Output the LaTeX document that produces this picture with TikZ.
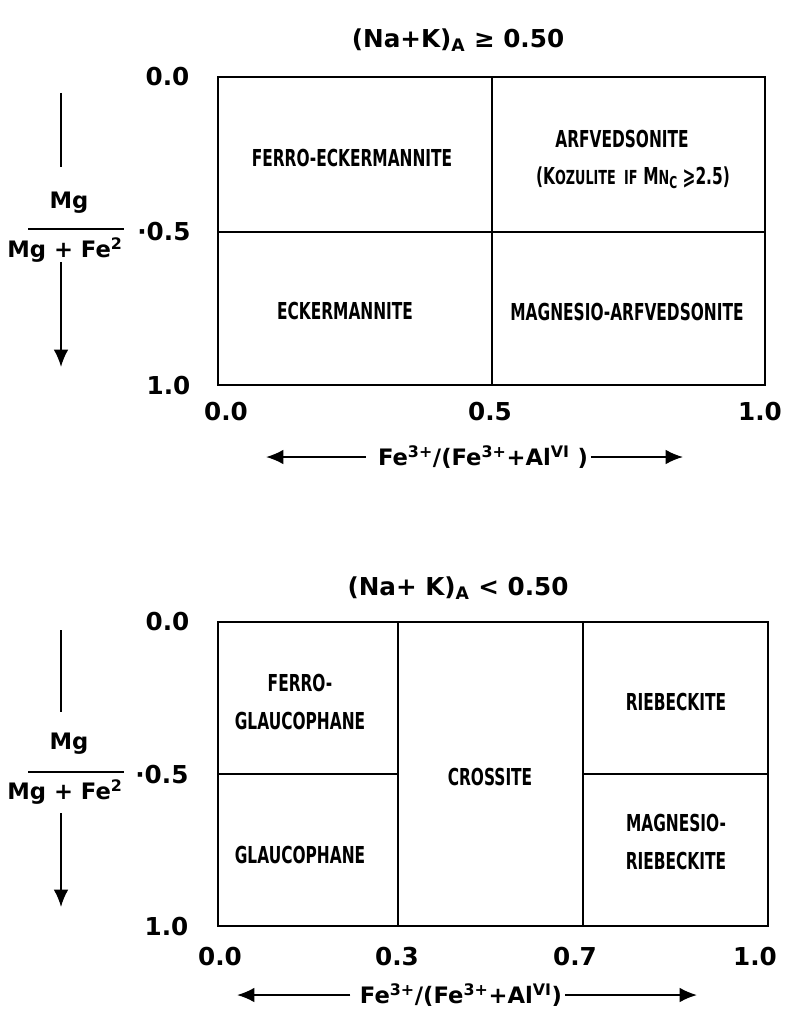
\documentclass[tikz,border=0pt]{standalone}
\usepackage{fontspec}
\setmainfont{DejaVu Sans}
\newfontfamily\regionfont{DejaVu Sans}[FakeStretch=0.66, BoldFeatures={FakeStretch=0.66}]
\newfontfamily\labelfont{DejaVu Sans}
\usetikzlibrary{arrows.meta, positioning}
\newcommand{\sups}[1]{\textsuperscript{#1}}
\newcommand{\smcap}[1]{{\fontsize{14.5}{16}\selectfont #1}}

\begin{document}
\begin{tikzpicture}[x=0.75pt, y=-0.75pt,
  frame/.style={line width=1.9pt},
  divider/.style={line width=1.5pt},
  region/.style={font={\regionfont\bfseries\fontsize{17.5}{21}\selectfont}, align=center},
  tick/.style={font={\labelfont\bfseries\fontsize{18.5}{22}\selectfont}, inner sep=1pt},
  title/.style={font={\labelfont\bfseries\fontsize{18.5}{22}\selectfont}},
  ratio/.style={font={\labelfont\bfseries\fontsize{17}{21}\selectfont}, inner sep=1pt},
  axisarrow/.style={line width=1.5pt, -{Latex[length=13pt, width=11pt]}},
  stem/.style={line width=1.5pt},
]
\useasboundingbox (0,0) rectangle (784,1012);

% --- upper diagram: (Na+K)_A >= 0.50
\node[title] (upTitle) at (458,40) {(Na+K)\textsubscript{A} ≥ 0.50};
\draw[frame] (218,77) rectangle (765,385);
\draw[divider] (218,232) -- (765,232);
\draw[divider] (492,77) -- (492,385);

\node[region] (ferroEck) at (352,158) {FERRO-ECKERMANNITE};
\node[region] (arfv) at (622,139) {ARFVEDSONITE};
\node[region] (kozul) at (633,178) {(K\smcap{OZULITE}\hspace{0.35em}\smcap{IF}\hspace{0.25em}M\smcap{N}\textsubscript{C}\hspace{0.2em}⩾2.5)};
\node[region] (eck) at (345,311) {ECKERMANNITE};
\node[region] (mgArfv) at (627,312) {MAGNESIO-ARFVEDSONITE};

\node[tick, anchor=east] (upY0) at (191,77) {0.0};
\node[tick, anchor=east] (upY5) at (192,232) {·0.5};
\node[tick, anchor=east] (upY1) at (192,386) {1.0};
\node[tick] (upX0) at (226,412) {0.0};
\node[tick] (upX5) at (490,412) {0.5};
\node[tick] (upX1) at (760,412) {1.0};

\node[ratio] (upAxis) at (483,457) {Fe\sups{3+}/(Fe\sups{3+}+Al\sups{VI} )};
\coordinate (upAxisL) at (266,457);
\coordinate (upAxisR) at (683,457);
\draw[axisarrow] ([xshift=-8pt]upAxis.west) -- (upAxisL);
\draw[axisarrow] ([xshift=1pt]upAxis.east) -- (upAxisR);

\node[ratio] (upMg) at (69,203) {Mg};
\node[ratio] (upDen) at (65,250) {Mg + Fe\sups{2}};
\draw[stem] (28,229) -- (124,229);
\coordinate (upStemTop) at (61,93);
\coordinate (upStemEnd) at (61,367);
\draw[stem] (upStemTop) -- (61,167);
\draw[axisarrow] (61,262) -- (upStemEnd);

% --- lower diagram: (Na+K)_A < 0.50
\node[title] (lowTitle) at (458,588) {(Na+ K)\textsubscript{A} < 0.50};
\draw[frame] (218,622) rectangle (768,926);
\draw[divider] (398,622) -- (398,926);
\draw[divider] (583,622) -- (583,926);
\draw[divider] (218,774) -- (398,774);
\draw[divider] (583,774) -- (768,774);

\node[region] (ferroGlau) at (300,702) {FERRO-\\[8pt]GLAUCOPHANE};
\node[region] (glau) at (300,855) {GLAUCOPHANE};
\node[region] (cross) at (490,777) {CROSSITE};
\node[region] (rieb) at (676,702) {RIEBECKITE};
\node[region] (mgRieb) at (676,842) {MAGNESIO-\\[8pt]RIEBECKITE};

\node[tick, anchor=east] (lowY0) at (191,622) {0.0};
\node[tick, anchor=east] (lowY5) at (190,775) {·0.5};
\node[tick, anchor=east] (lowY1) at (190,927) {1.0};
\node[tick] (lowX0) at (220,957) {0.0};
\node[tick] (lowX3) at (397,957) {0.3};
\node[tick] (lowX7) at (575,957) {0.7};
\node[tick] (lowX1) at (755,957) {1.0};

\node[ratio] (lowAxis) at (461,995) {Fe\sups{3+}/(Fe\sups{3+}+Al\sups{VI})};
\coordinate (lowAxisL) at (237,995);
\coordinate (lowAxisR) at (697,995);
\draw[axisarrow] ([xshift=-6pt]lowAxis.west) -- (lowAxisL);
\draw[axisarrow] ([xshift=1pt]lowAxis.east) -- (lowAxisR);

\node[ratio] (lowMg) at (69,744) {Mg};
\node[ratio] (lowDen) at (65,792) {Mg + Fe\sups{2}};
\draw[stem] (28,772) -- (124,772);
\coordinate (lowStemTop) at (61,630);
\coordinate (lowStemEnd) at (61,907);
\draw[stem] (lowStemTop) -- (61,712);
\draw[axisarrow] (61,813) -- (lowStemEnd);
\end{tikzpicture}
\end{document}
